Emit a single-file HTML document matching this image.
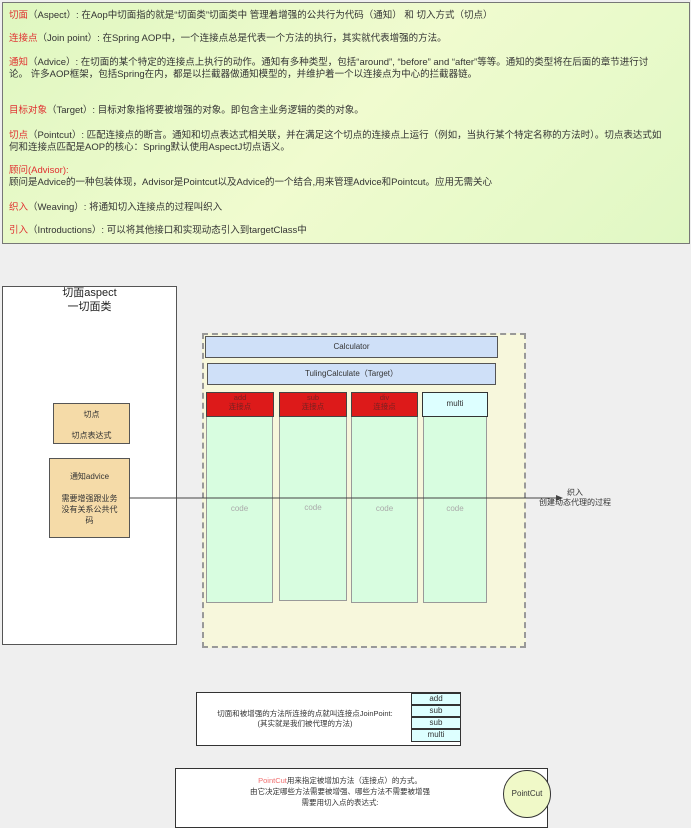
<!DOCTYPE html>
<html><head><meta charset="utf-8"><style>
body{margin:0;width:691px;height:818px;background:#efefef;position:relative;overflow:hidden;font-family:"Liberation Sans","Noto Sans CJK SC",sans-serif;color:#333}
div{position:absolute;box-sizing:border-box}
.t{font-size:9.5px;left:9px;white-space:nowrap;line-height:12px}
.r{color:#e03030}
.c{text-align:center;font-size:8px}
.red{background:#dd1a1a;border:1.5px solid #444;color:#7a2020;font-size:7.5px;line-height:9px;text-align:center}
.grn{background:#d8fde0;border:1.5px solid #999;color:#aaa;font-size:8px;text-align:center}
.cy{background:#ddffff;border:1.5px solid #333;font-size:8px;text-align:center;line-height:10px}
</style></head><body>
<div style="left:2px;top:2px;width:688px;height:242px;border:1.5px solid #777;background:linear-gradient(135deg,#dff7c0,#f0fbcf 50%,#e0f8c4)"></div>
<div class="t" style="top:10px"><span class="r">切面</span>（Aspect）: 在Aop中切面指的就是“切面类”切面类中 管理着增强的公共行为代码（通知） 和 切入方式（切点）</div>
<div class="t" style="top:33px"><span class="r">连接点</span>（Join point）: 在Spring AOP中，一个连接点总是代表一个方法的执行，其实就代表增强的方法。</div>
<div class="t" style="top:57px"><span class="r">通知</span>（Advice）: 在切面的某个特定的连接点上执行的动作。通知有多种类型，包括“around”, “before” and “after”等等。通知的类型将在后面的章节进行讨</div>
<div class="t" style="top:69px">论。 许多AOP框架，包括Spring在内，都是以拦截器做通知模型的，并维护着一个以连接点为中心的拦截器链。</div>
<div class="t" style="top:105px"><span class="r">目标对象</span>（Target）: 目标对象指将要被增强的对象。即包含主业务逻辑的类的对象。</div>
<div class="t" style="top:130px"><span class="r">切点</span>（Pointcut）: 匹配连接点的断言。通知和切点表达式相关联，并在满足这个切点的连接点上运行（例如，当执行某个特定名称的方法时）。切点表达式如</div>
<div class="t" style="top:142px">何和连接点匹配是AOP的核心：Spring默认使用AspectJ切点语义。</div>
<div class="t" style="top:165px"><span class="r">顾问(Advisor):</span></div>
<div class="t" style="top:177px">顾问是Advice的一种包装体现，Advisor是Pointcut以及Advice的一个结合,用来管理Advice和Pointcut。应用无需关心</div>
<div class="t" style="top:202px"><span class="r">织入</span>（Weaving）: 将通知切入连接点的过程叫织入</div>
<div class="t" style="top:225px"><span class="r">引入</span>（Introductions）: 可以将其他接口和实现动态引入到targetClass中</div>

<div style="left:2px;top:286px;width:175px;height:359px;border:1.5px solid #555;background:#fff"></div>
<div style="left:2px;top:286px;width:175px;text-align:center;font-size:11px;line-height:14px;color:#222">切面aspect<br>一切面类</div>
<div style="left:53px;top:403px;width:77px;height:41px;border:1.5px solid #555;background:#f5dba8;font-size:8px;text-align:center;line-height:21px">切点<br>切点表达式</div>
<div style="left:49px;top:458px;width:81px;height:80px;border:1.5px solid #555;background:#f5dba8;font-size:8px;text-align:center;line-height:11px;padding-top:12px">通知advice<br><br>需要增强跟业务<br>没有关系公共代<br>码</div>

<div style="left:202px;top:333px;width:324px;height:315px;border:2px dashed #999;background:#f7f7dc"></div>
<div style="left:205px;top:336px;width:293px;height:22px;border:1.5px solid #555;background:#cfe0f8" class="c"><span style="line-height:19px">Calculator</span></div>
<div style="left:207px;top:363px;width:289px;height:22px;border:1.5px solid #555;background:#cfe0f8" class="c"><span style="line-height:19px">TulingCalculate（Target）</span></div>
<div class="grn" style="left:206px;top:415px;width:67px;height:188px;line-height:186px">code</div>
<div class="grn" style="left:279px;top:415px;width:68px;height:186px;line-height:184px">code</div>
<div class="grn" style="left:351px;top:415px;width:67px;height:188px;line-height:186px">code</div>
<div class="grn" style="left:423px;top:415px;width:64px;height:188px;line-height:186px">code</div>
<div class="red" style="left:206px;top:392px;width:68px;height:25px">add<br>连接点</div>
<div class="red" style="left:279px;top:392px;width:68px;height:25px">sub<br>连接点</div>
<div class="red" style="left:351px;top:392px;width:67px;height:25px">div<br>连接点</div>
<div class="cy" style="left:422px;top:392px;width:66px;height:25px;line-height:22px">multi</div>

<svg style="position:absolute;left:0;top:0" width="691" height="818"><line x1="129" y1="498" x2="560" y2="498" stroke="#444" stroke-width="1"/><polygon points="563,498 556,495 556,501" fill="#444"/></svg>
<div style="left:530px;top:488px;font-size:8px;text-align:center;width:90px;line-height:10px;white-space:nowrap">织入<br>创建动态代理的过程</div>

<div style="left:196px;top:692px;width:265px;height:54px;border:1.5px solid #333;background:#fff"></div>
<div style="left:200px;top:709px;width:210px;font-size:7.5px;text-align:center;line-height:10px">切面和被增强的方法所连接的点就叫连接点JoinPoint:<br>(其实就是我们被代理的方法)</div>
<div class="cy" style="left:411px;top:693px;width:50px;height:12px">add</div>
<div class="cy" style="left:411px;top:705px;width:50px;height:12px">sub</div>
<div class="cy" style="left:411px;top:717px;width:50px;height:12px">sub</div>
<div class="cy" style="left:411px;top:729px;width:50px;height:13px">multi</div>

<div style="left:175px;top:768px;width:373px;height:60px;border:1.5px solid #333;background:#fff"></div>
<div style="left:190px;top:775px;width:300px;font-size:7.5px;text-align:center;line-height:11px"><span style="color:#f07070">PointCut</span>用来指定被增加方法（连接点）的方式。<br>由它决定哪些方法需要被增强、哪些方法不需要被增强<br>需要用切入点的表达式:</div>
<div style="left:503px;top:770px;width:48px;height:48px;border-radius:50%;border:1.5px solid #333;background:#f0f9c8;font-size:8px;text-align:center;line-height:46px">PointCut</div>
</body></html>
